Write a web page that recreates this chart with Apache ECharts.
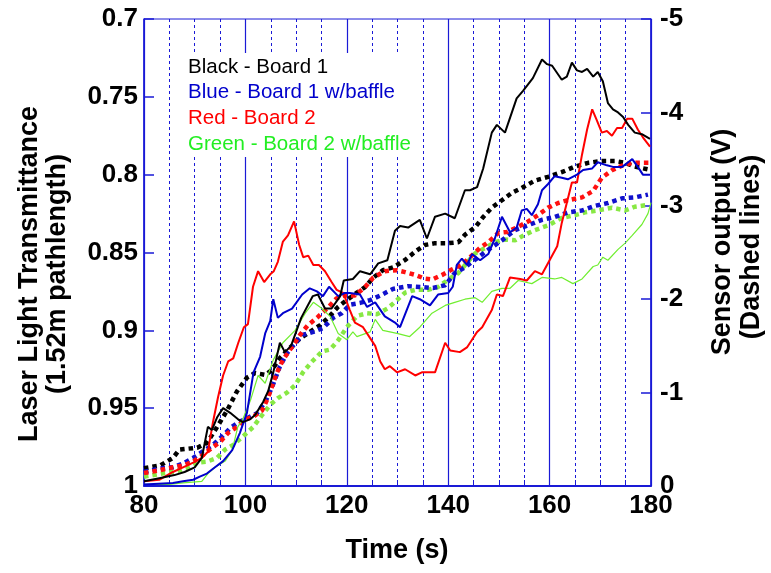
<!DOCTYPE html>
<html>
<head>
<meta charset="utf-8">
<script src="https://cdn.jsdelivr.net/npm/echarts@6/dist/echarts.min.js"></script>
<style>html,body{margin:0;padding:0;background:#fff}#c{width:771px;height:573px}</style>
</head>
<body>
<div id="c"></div>
<script>
// Transmittance (left axis), [time s, transmittance]
const blackSolid = [[80,0.997],[83,0.995],[86,0.993],[88,0.991],[90,0.988],[91.4,0.982],[92.6,0.962],[93.4,0.964],[94.4,0.956],[95.6,0.950],[97,0.953],[98.5,0.957],[99.5,0.959],[101,0.957],[102,0.954],[103.5,0.946],[104.5,0.939],[105.5,0.927],[106.8,0.908],[107.8,0.914],[109,0.910],[111,0.892],[113.3,0.878],[114.3,0.877],[115.7,0.886],[117,0.886],[118.7,0.878],[119.4,0.868],[121.2,0.867],[122.6,0.862],[124.6,0.864],[126.2,0.857],[128,0.855],[129.5,0.836],[130.5,0.833],[132.1,0.834],[134.4,0.829],[135.8,0.841],[137.4,0.827],[139.4,0.825],[141.3,0.828],[143.3,0.810],[144.3,0.810],[145.7,0.808],[146.9,0.796],[148.6,0.773],[149.6,0.768],[151.2,0.773],[153.5,0.751],[154.8,0.746],[156.7,0.738],[158.5,0.726],[159.5,0.729],[160.5,0.730],[162.4,0.739],[163.4,0.737],[164.4,0.728],[165.4,0.733],[166.4,0.734],[167.4,0.732],[168.6,0.737],[169.5,0.734],[170.5,0.740],[171.5,0.754],[172.5,0.758],[173.5,0.760],[174.5,0.763],[175.5,0.768],[176.8,0.773],[178.2,0.774],[179.8,0.777]];
const blueSolid = [[80,0.999],[85.7,0.998],[87.7,0.997],[89.7,0.996],[91,0.994],[92.4,0.992],[94,0.988],[95.6,0.984],[97.4,0.977],[98.9,0.966],[100.3,0.953],[101.6,0.927],[102.9,0.917],[103.9,0.902],[104.9,0.894],[105.5,0.880],[106.4,0.892],[107.4,0.889],[109.2,0.886],[111.2,0.877],[112.7,0.873],[114.1,0.875],[115.3,0.878],[116.5,0.872],[118.3,0.878],[119.6,0.876],[120.6,0.876],[122.6,0.877],[124,0.885],[125.6,0.882],[127.5,0.891],[129.5,0.895],[130.5,0.898],[132.9,0.878],[134.4,0.880],[136.4,0.884],[138,0.877],[140,0.876],[140.9,0.872],[141.7,0.858],[142.7,0.854],[143.7,0.858],[144.7,0.851],[146.3,0.855],[147.9,0.851],[149.2,0.841],[150.6,0.827],[152.2,0.837],[153.5,0.834],[154.5,0.823],[155.5,0.822],[156.5,0.826],[157.7,0.819],[158.5,0.810],[159.7,0.806],[161,0.801],[162.4,0.802],[163.6,0.803],[165.4,0.800],[166.6,0.797],[168.4,0.796],[169.5,0.792],[171.3,0.794],[172.5,0.795],[174.3,0.795],[175.5,0.792],[176.3,0.790],[177.4,0.795],[178.4,0.800],[179.8,0.800]];
const redSolid = [[80,0.997],[83,0.996],[85.7,0.991],[87.7,0.988],[89.7,0.985],[91.4,0.982],[92.6,0.978],[93.6,0.959],[94.6,0.943],[95.6,0.929],[96.6,0.920],[97.6,0.918],[98.6,0.908],[99.7,0.898],[100.5,0.896],[101.5,0.872],[102.5,0.862],[103.7,0.869],[104.9,0.864],[105.6,0.862],[106.4,0.856],[107.4,0.843],[108.4,0.839],[109.6,0.830],[110.6,0.845],[111.4,0.853],[112.4,0.852],[113.4,0.858],[114.5,0.858],[115.7,0.862],[117,0.869],[118,0.874],[119.3,0.876],[120.6,0.887],[121.6,0.895],[123.2,0.898],[124.6,0.905],[125.6,0.910],[126.6,0.920],[127.5,0.925],[128.5,0.923],[129.9,0.927],[131.5,0.925],[133.5,0.929],[134.8,0.927],[137.4,0.927],[139.4,0.908],[140.4,0.913],[142.3,0.914],[143.7,0.911],[144.7,0.906],[145.7,0.901],[146.7,0.898],[148.6,0.887],[149.6,0.877],[150.8,0.878],[152.2,0.866],[154.2,0.867],[155.5,0.868],[157.1,0.862],[158.5,0.864],[160,0.855],[161.5,0.846],[162.4,0.831],[163.4,0.818],[164.4,0.805],[165.4,0.805],[166.4,0.787],[167.4,0.771],[168.4,0.758],[169.3,0.765],[170.3,0.773],[171.3,0.772],[172.3,0.775],[173.3,0.770],[174.3,0.770],[175.3,0.764],[176.3,0.764],[177.4,0.771],[178.4,0.776],[179.8,0.782]];
const greenSolid = [[80,0.999],[85,0.999],[87.7,0.998],[91.4,0.997],[92.6,0.992],[94,0.988],[96,0.984],[97.4,0.977],[98.5,0.962],[99.5,0.957],[101,0.945],[102.5,0.929],[103.9,0.934],[105.5,0.919],[107.4,0.908],[109.8,0.900],[111.8,0.889],[113.4,0.882],[115.1,0.886],[116.7,0.891],[118.3,0.902],[120,0.906],[121.2,0.901],[122,0.904],[124.6,0.901],[125.6,0.893],[127.1,0.900],[129.9,0.902],[132.4,0.904],[134.4,0.898],[136.8,0.889],[139.4,0.884],[141.3,0.882],[143.3,0.880],[145.3,0.879],[146.7,0.882],[148.6,0.875],[150.6,0.873],[152.2,0.873],[153.8,0.868],[156.5,0.870],[158.5,0.866],[161,0.867],[162.4,0.866],[164.6,0.870],[166.4,0.867],[168.6,0.859],[169.5,0.858],[170.5,0.853],[171.5,0.855],[173.5,0.848],[174.9,0.844],[176.3,0.839],[178.2,0.832],[179.4,0.825],[180,0.818]];
// Sensor output (right axis, V), [time s, volts]
const blackDashed = [[80,-0.19],[83.2,-0.22],[85.7,-0.30],[87,-0.39],[90.5,-0.41],[92.4,-0.46],[94.4,-0.63],[96.4,-0.81],[98.3,-1.01],[100.3,-1.16],[101.9,-1.21],[103.9,-1.19],[105.2,-1.24],[106.8,-1.37],[108.8,-1.48],[110.8,-1.58],[112.7,-1.65],[114.7,-1.72],[116.3,-1.80],[118.3,-1.92],[120,-1.99],[122,-2.07],[123.6,-2.13],[125.2,-2.23],[127.1,-2.31],[129.1,-2.34],[131.5,-2.42],[133.5,-2.51],[135.4,-2.58],[137.4,-2.60],[140,-2.60],[142,-2.61],[143.3,-2.69],[145.3,-2.77],[146.9,-2.88],[148.6,-2.98],[150.6,-3.06],[152.6,-3.14],[154.5,-3.19],[157.1,-3.27],[159.7,-3.31],[162.4,-3.36],[165,-3.42],[167.6,-3.46],[170.3,-3.48],[172.9,-3.48],[174.9,-3.46],[176.8,-3.42],[179.4,-3.39]];
const blueDashed = [[80,-0.15],[83.2,-0.19],[85.7,-0.20],[87.7,-0.24],[89.7,-0.30],[91.6,-0.37],[93.6,-0.44],[95.4,-0.53],[97,-0.62],[98.9,-0.69],[100.5,-0.73],[102.3,-0.78],[103.9,-0.90],[105.2,-1.05],[106.8,-1.28],[108.2,-1.42],[109.8,-1.53],[111.4,-1.62],[113.4,-1.65],[115.3,-1.69],[117.3,-1.80],[119,-1.85],[120.6,-1.94],[122.6,-1.96],[124.6,-1.99],[126.6,-2.04],[129.1,-2.11],[132.1,-2.14],[134.8,-2.13],[137,-2.12],[139.4,-2.15],[141.3,-2.28],[143.3,-2.34],[145.7,-2.44],[147.9,-2.53],[150.6,-2.63],[153.2,-2.74],[155.7,-2.79],[158.5,-2.85],[161,-2.88],[163.6,-2.93],[166.4,-2.95],[169,-3.00],[171.5,-3.03],[174.3,-3.08],[176.8,-3.09],[179.4,-3.12]];
const redDashed = [[80,-0.14],[83.2,-0.17],[85.7,-0.20],[87.7,-0.22],[89.7,-0.26],[91.6,-0.33],[93.4,-0.41],[95,-0.47],[96.6,-0.57],[98.3,-0.63],[99.9,-0.71],[101.5,-0.74],[103.3,-0.81],[104.5,-0.95],[106.2,-1.21],[107.4,-1.35],[109.2,-1.49],[110.8,-1.62],[112.3,-1.72],[114.3,-1.81],[116.3,-1.91],[118,-2.01],[119.6,-2.04],[121.6,-2.04],[123.6,-2.13],[125.2,-2.23],[127.5,-2.30],[129.9,-2.31],[131.5,-2.29],[133.5,-2.26],[135.4,-2.22],[136.8,-2.21],[138.8,-2.26],[140.8,-2.32],[142.7,-2.37],[144.3,-2.45],[146.3,-2.55],[147.9,-2.61],[149.9,-2.71],[151.6,-2.72],[153.6,-2.77],[155.7,-2.83],[157.7,-2.90],[159.7,-2.98],[161.7,-3.03],[163.6,-3.06],[166.4,-3.09],[168.6,-3.16],[170.3,-3.30],[172.3,-3.38],[174.3,-3.43],[176.3,-3.46],[178.2,-3.46],[179.8,-3.46]];
const greenDashed = [[80,-0.10],[83.2,-0.13],[85.7,-0.15],[88.5,-0.19],[90.5,-0.25],[92.4,-0.26],[94.4,-0.30],[96,-0.39],[97.6,-0.44],[99.5,-0.53],[101.5,-0.63],[103.3,-0.76],[104.9,-0.87],[106.4,-0.94],[108.2,-1.00],[109.8,-1.08],[111.4,-1.22],[113.1,-1.33],[115.1,-1.44],[116.7,-1.46],[118.3,-1.56],[120,-1.70],[122,-1.82],[124,-1.85],[126,-1.84],[128,-1.90],[129.5,-1.97],[131.5,-2.07],[133.5,-2.10],[136,-2.10],[138,-2.13],[140,-2.21],[142,-2.28],[143.7,-2.39],[145.3,-2.49],[147.3,-2.55],[149.2,-2.61],[151.2,-2.64],[153.2,-2.63],[155.1,-2.69],[157.1,-2.74],[159.7,-2.79],[162.4,-2.87],[165,-2.90],[167,-2.93],[169.5,-2.95],[172.3,-2.98],[174.9,-2.95],[176.8,-2.99],[179.4,-3.01]];

const legendTexts = ['Black - Board 1','Blue - Board 1 w/baffle','Red - Board 2','Green - Board 2 w/baffle'];
const legendColors = ['#000000','#0000cc','#ff0000','#22ee22'];
const xTitle = 'Time (s)';
const yLeftTitle = ['Laser Light Transmittance','(1.52m pathlength)'];
const yRightTitle = ['Sensor output (V)','(Dashed lines)'];

const FONT = '"Liberation Sans", Arial, sans-serif';
const AX = '#1a1ad6';
const chart = echarts.init(document.getElementById('c'));

function solid(data, color, w) {
  return {type:'line', data, yAxisIndex:0, showSymbol:false, symbol:'none', lineStyle:{color, width:w}, animation:false, z:4};
}
function dashed(data, color) {
  return {type:'line', data, yAxisIndex:1, showSymbol:false, symbol:'none', lineStyle:{color, width:4.5, type:[4.5,4], cap:'butt'}, animation:false, z:3};
}
const labelStyle = {color:'#000', fontSize:26, fontWeight:'bold', fontFamily:FONT};

const graphics = [];
// white box behind the legend text (hides grid lines there)
graphics.push({type:'rect', z:1, shape:{x:176, y:53, width:238, height:104}, style:{fill:'#ffffff'}});
legendTexts.forEach((t,i)=>{
  graphics.push({type:'text', z:2, x:188, y:67+i*25.8, style:{text:t, fill:legendColors[i], font:'20.5px '+FONT, align:'left', verticalAlign:'middle'}});
});
const titleFont = 'bold 27px '+FONT;
graphics.push({type:'text', x:397, y:551, style:{text:xTitle, fill:'#000', font:titleFont, align:'center', verticalAlign:'middle'}});
graphics.push({type:'text', x:30, y:274, rotation:Math.PI/2, style:{text:yLeftTitle[0], fill:'#000', font:titleFont, align:'center', verticalAlign:'middle'}});
graphics.push({type:'text', x:58, y:274, rotation:Math.PI/2, style:{text:yLeftTitle[1], fill:'#000', font:titleFont, align:'center', verticalAlign:'middle'}});
graphics.push({type:'text', x:723, y:242, rotation:Math.PI/2, style:{text:yRightTitle[0], fill:'#000', font:titleFont, align:'center', verticalAlign:'middle'}});
graphics.push({type:'text', x:752, y:247, rotation:Math.PI/2, style:{text:yRightTitle[1], fill:'#000', font:titleFont, align:'center', verticalAlign:'middle'}});

chart.setOption({
  backgroundColor:'#fff',
  animation:false,
  grid:{left:144, right:120, top:19, bottom:87, show:true, borderColor:AX, borderWidth:1, containLabel:false},
  xAxis:{type:'value', min:80, max:180, interval:20,
    axisLine:{show:true, lineStyle:{color:AX, width:2}},
    axisTick:{show:true, inside:true, length:6, lineStyle:{color:AX}},
    minorTick:{show:true, splitNumber:4, length:6, lineStyle:{color:AX}},
    splitLine:{show:true, lineStyle:{color:AX, width:1.2}},
    minorSplitLine:{show:true, lineStyle:{color:AX, width:1, type:[3,3]}},
    axisLabel:Object.assign({margin:7}, labelStyle)},
  yAxis:[
    {type:'value', min:0.7, max:1, interval:0.05, inverse:true, position:'left',
      axisLine:{show:true, lineStyle:{color:AX, width:1.5}},
      axisTick:{show:true, inside:true, length:10, lineStyle:{color:AX, width:1.5}},
      splitLine:{show:false},
      axisLabel:Object.assign({margin:6, formatter:v=>String(parseFloat(v.toFixed(2)))}, labelStyle)},
    {type:'value', min:-5, max:0, interval:1, inverse:true, position:'right',
      axisLine:{show:true, lineStyle:{color:AX, width:1.5}},
      axisTick:{show:true, inside:true, length:10, lineStyle:{color:AX, width:1.5}},
      splitLine:{show:false},
      axisLabel:Object.assign({margin:9, formatter:v=>String(Math.round(v))}, labelStyle)}
  ],
  series:[
    dashed(blackDashed,'#000000'),
    dashed(greenDashed,'#88e844'),
    dashed(blueDashed,'#1010cc'),
    dashed(redDashed,'#ff1010'),
    solid(greenSolid,'#70ee30',1.2),
    solid(redSolid,'#ff0000',2),
    solid(blueSolid,'#0000cc',2),
    solid(blackSolid,'#000000',2)
  ],
  graphic:graphics
});
</script>
</body>
</html>
